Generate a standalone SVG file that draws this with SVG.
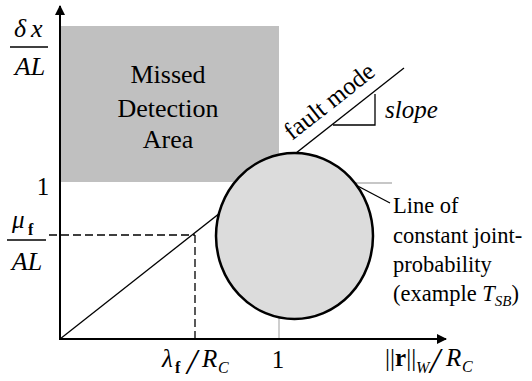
<svg xmlns="http://www.w3.org/2000/svg" width="532" height="381" viewBox="0 0 532 381">
<defs>
<marker id="arr" markerWidth="10" markerHeight="10" refX="9" refY="5" orient="auto" markerUnits="userSpaceOnUse">
<path d="M0,0 L10,5 L0,10 Z" fill="#000"/>
</marker>
</defs>
<rect width="532" height="381" fill="#fff"/>

<g id="area">
<rect x="61" y="26" width="218" height="156" fill="#c0c0c0"/>
<text font-family="Times New Roman, Liberation Serif, serif" font-size="26" x="168" y="83" text-anchor="middle">Missed</text>
<text font-family="Times New Roman, Liberation Serif, serif" font-size="26" x="168" y="117" text-anchor="middle">Detection</text>
<text font-family="Times New Roman, Liberation Serif, serif" font-size="26" x="168" y="148" text-anchor="middle">Area</text>
</g>

<g id="guides" stroke="#b4b4b4" stroke-width="1.3" fill="none">
<line x1="279" y1="183" x2="392" y2="183"/>
<line x1="279" y1="183" x2="279" y2="339"/>
</g>

<g id="connectors" stroke="#000" stroke-width="1.3" fill="none">
<line x1="60" y1="339" x2="404" y2="68"/>
<polyline points="333,125 375,125 375,94"/>
<line stroke-dasharray="8,4" x1="49" y1="235" x2="195" y2="235"/>
<line stroke-dasharray="8,4" x1="195" y1="235" x2="195" y2="343"/>
<line x1="352" y1="183" x2="390" y2="203"/>
</g>

<g id="circle">
<ellipse cx="294.5" cy="236" rx="78.5" ry="83" fill="#dcdcdc" stroke="#000" stroke-width="2.5"/>
</g>

<g id="axes" stroke="#000" stroke-width="2" fill="none">
<line x1="60" y1="340" x2="60" y2="6" marker-end="url(#arr)"/>
<line x1="59" y1="339" x2="446" y2="339" marker-end="url(#arr)"/>
</g>

<g id="fault">
<text font-family="Times New Roman, Liberation Serif, serif" font-size="25" transform="translate(292,141) rotate(-38.2)">fault mode</text>
<text font-family="Times New Roman, Liberation Serif, serif" font-size="25" font-style="italic" x="385" y="118">slope</text>
</g>

<g id="ylabels">
<text font-family="Liberation Serif" font-size="26" font-style="italic" x="14" y="37">δ</text>
<text font-family="Liberation Serif" font-size="26" font-style="italic" x="31" y="37">x</text>
<line stroke="#000" stroke-width="1.5" x1="10" y1="47" x2="48" y2="47"/>
<text font-family="Liberation Serif" font-size="26" font-style="italic" x="30" y="75" text-anchor="middle">AL</text>
<text font-family="Liberation Serif" font-size="25" x="43" y="195" text-anchor="middle">1</text>
<text font-family="Liberation Serif" font-size="25" font-style="italic" x="12" y="228">μ</text>
<text font-family="Liberation Serif" font-size="16" font-weight="bold" x="28" y="235">f</text>
<line stroke="#000" stroke-width="1.5" x1="7" y1="240" x2="46" y2="240"/>
<text font-family="Liberation Serif" font-size="26" font-style="italic" x="27" y="270" text-anchor="middle">AL</text>
</g>

<g id="xlabels">
<text font-family="Liberation Serif" font-size="25" font-style="italic" x="162" y="367">λ</text>
<text font-family="Liberation Serif" font-size="16" font-weight="bold" x="175" y="373">f</text>
<text font-family="Liberation Serif" font-size="36" font-style="italic" x="187" y="374">/</text>
<text font-family="Liberation Serif" font-size="25" font-style="italic" x="202" y="367">R</text>
<text font-family="Liberation Serif" font-size="16" font-style="italic" x="218" y="373">C</text>
<text font-family="Liberation Serif" font-size="25" x="278" y="368" text-anchor="middle">1</text>
<text font-family="Liberation Serif" font-size="25" x="385" y="366">||<tspan font-weight="bold">r</tspan>||</text>
<text font-family="Liberation Serif" font-size="16" font-style="italic" x="416" y="373">W</text>
<text font-family="Liberation Serif" font-size="36" font-style="italic" x="430" y="373">/</text>
<text font-family="Liberation Serif" font-size="25" font-style="italic" x="446" y="366">R</text>
<text font-family="Liberation Serif" font-size="16" font-style="italic" x="462" y="372">C</text>
</g>

<g id="callout">
<text font-family="Times New Roman, Liberation Serif, serif" font-size="22.5" x="393" y="213">Line of</text>
<text font-family="Times New Roman, Liberation Serif, serif" font-size="22.5" x="393" y="243">constant joint-</text>
<text font-family="Times New Roman, Liberation Serif, serif" font-size="22.5" x="393" y="272">probability</text>
<text font-family="Times New Roman, Liberation Serif, serif" font-size="22.5" x="393" y="301">(example <tspan font-style="italic">T</tspan><tspan font-style="italic" font-size="15" dy="5">SB</tspan><tspan dy="-5">)</tspan></text>
</g>
</svg>
